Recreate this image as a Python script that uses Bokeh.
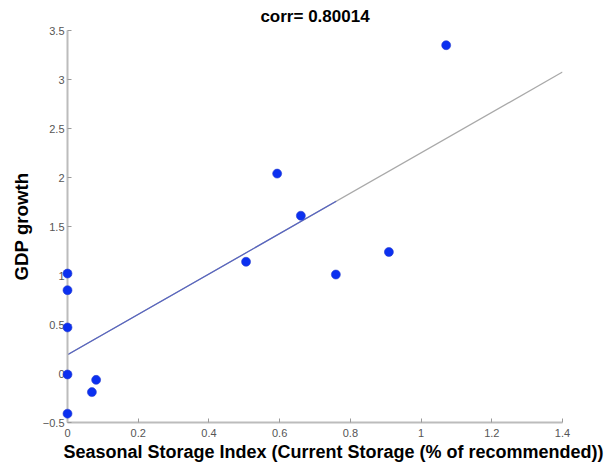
import numpy as np
from bokeh.plotting import figure
from bokeh.models import Range1d, FixedTicker, Title
from bokeh.embed import file_html
from bokeh.resources import INLINE

# Seasonal storage index vs. GDP growth
storage_index = [0.0, 0.0, 0.0, 0.0, 0.0, 0.081, 0.069, 0.505, 0.593, 0.660, 0.759, 0.909, 1.071]
gdp_growth = [1.02, 0.85, 0.47, -0.01, -0.41, -0.065, -0.19, 1.14, 2.04, 1.61, 1.01, 1.24, 3.35]

# extent of the fitted line (full span and highlighted part)
fit_span = [0.0, 1.4]
fit_highlight = [0.0, 0.76]

x_ticks = [0, 0.2, 0.4, 0.6, 0.8, 1.0, 1.2, 1.4]
x_tick_labels = ["0", "0.2", "0.4", "0.6", "0.8", "1", "1.2", "1.4"]
y_ticks = [-0.5, 0, 0.5, 1, 1.5, 2, 2.5, 3, 3.5]
y_tick_labels = ["\u22120.5", "0", "0.5", "1", "1.5", "2", "2.5", "3", "3.5"]

title_text = "corr= 0.80014"
x_label = "Seasonal Storage Index (Current Storage (% of recommended))"
y_label = "GDP growth"

FONT = "Liberation Sans"
AXIS_GREY = "#bcbcbc"

p = figure(width=606, height=465, toolbar_location=None,
           output_backend="svg",
           x_range=Range1d(0, 1.4), y_range=Range1d(-0.5, 3.5),
           min_border_left=67, min_border_right=44,
           min_border_top=30, min_border_bottom=43)
p.outline_line_color = None
p.background_fill_color = "white"
p.border_fill_color = "white"
p.xgrid.visible = False
p.ygrid.visible = False

p.title.text = title_text
p.title.align = "center"
p.title.text_font = FONT
p.title.text_font_style = "bold"
p.title.text_font_size = "17px"
p.title.text_color = "black"
p.title.standoff = 9

for ax in (p.xaxis, p.yaxis):
    ax.axis_line_color = AXIS_GREY
    ax.axis_line_width = 2
    ax.major_tick_line_color = "#9a9a9a"
    ax.major_tick_in = 4
    ax.major_tick_out = 0
    ax.minor_tick_line_color = None
    ax.major_label_text_font = FONT
    ax.major_label_text_font_size = "11px"
    ax.major_label_text_color = "#555555"

p.xaxis.ticker = FixedTicker(ticks=x_ticks)
p.xaxis.major_label_overrides = {t: s for t, s in zip(x_ticks, x_tick_labels)}
p.xaxis.major_label_standoff = 6

p.yaxis.ticker = FixedTicker(ticks=y_ticks)
p.yaxis.major_label_overrides = {t: s for t, s in zip(y_ticks, y_tick_labels)}
p.yaxis.major_label_standoff = 3
p.yaxis.axis_label = y_label
p.yaxis.axis_label_text_font = FONT
p.yaxis.axis_label_text_font_style = "bold"
p.yaxis.axis_label_text_font_size = "18.7px"
p.yaxis.axis_label_text_color = "black"
p.yaxis.axis_label_standoff = 8

# least-squares line through the points
slope, intercept = np.polyfit(storage_index, gdp_growth, 1)
span = np.array(fit_span)
hl = np.array(fit_highlight)
p.line(span, intercept + slope * span, line_color="#a9a9a9", line_width=1.2)
p.line(hl, intercept + slope * hl, line_color="#5563c4", line_width=1.2)

# points on the overlay level so the ones at x = 0 sit on top of the axis
p.scatter(storage_index, gdp_growth, size=9, fill_color="#0b30f0",
          line_color="#2a3fd0", line_width=0.6, level="overlay")

p.add_layout(Title(text=x_label, align="left", offset=-4,
                   text_font=FONT, text_font_style="bold",
                   text_font_size="18px", text_color="black", standoff=0),
             "below")

open("out.html", "w").write(file_html(p, INLINE))
